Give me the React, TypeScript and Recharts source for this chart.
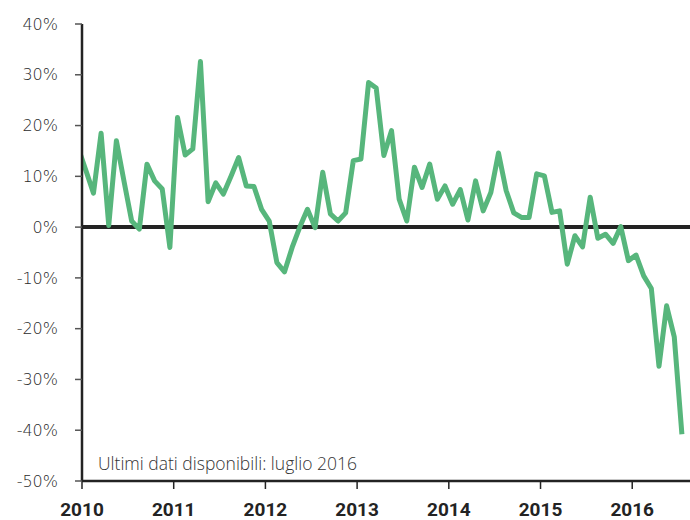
import { LineChart, Line, XAxis, YAxis, ReferenceLine } from 'recharts'

// monthly % change (Dec 2009 point is clipped at the axis)
const VALUES_2009 = [15.6] // December only
const VALUES_2010 = [11.2, 6.7, 18.5, 0.3, 17, 9, 1.2, -0.4, 12.4, 9.1, 7.5, -4]
const VALUES_2011 = [21.6, 14.2, 15.4, 32.6, 5, 8.7, 6.5, 10, 13.7, 8.1, 8, 3.5]
const VALUES_2012 = [1.2, -7, -8.8, -4, 0, 3.5, -0.1, 10.8, 2.6, 1.2, 2.8, 13.1]
const VALUES_2013 = [13.4, 28.5, 27.4, 14.1, 19, 5.5, 1.2, 11.8, 7.8, 12.4, 5.5, 8.1]
const VALUES_2014 = [4.5, 7.4, 1.4, 9.1, 3.2, 6.8, 14.6, 7.2, 2.8, 1.9, 1.9, 10.5]
const VALUES_2015 = [10.1, 2.9, 3.2, -7.3, -1.7, -3.9, 5.9, -2.2, -1.4, -3.2, 0.1, -6.6]
const VALUES_2016 = [-5.5, -9.6, -12.1, -27.4, -15.5, -21.6, -40.8] // through July

const YEAR_TICKS = [2010, 2011, 2012, 2013, 2014, 2015, 2016]
const Y_TICKS = [-50, -40, -30, -20, -10, 0, 10, 20, 30, 40]
const NOTE = 'Ultimi dati disponibili: luglio 2016'

// points sit at mid-month
const monthly = (year: number, values: number[], firstMonth = 0) =>
  values.map((value, i) => ({ t: year + (firstMonth + i + 0.5) / 12, value }))

const data = [
  ...monthly(2009, VALUES_2009, 11),
  ...monthly(2010, VALUES_2010),
  ...monthly(2011, VALUES_2011),
  ...monthly(2012, VALUES_2012),
  ...monthly(2013, VALUES_2013),
  ...monthly(2014, VALUES_2014),
  ...monthly(2015, VALUES_2015),
  ...monthly(2016, VALUES_2016),
]

const GREEN = '#57b67c'
const INK = '#232323'

export default function App() {
  return (
    <div style={{ position: 'absolute', left: 0, top: 0, width: 690, height: 520, background: '#fff' }}>
      <LineChart width={690} height={520} data={data} margin={{ top: 24, right: 0, left: 0, bottom: 0 }}>
        <XAxis
          type="number"
          dataKey="t"
          domain={[2010, 2016.63]}
          allowDataOverflow
          ticks={YEAR_TICKS}
          height={39}
          tickSize={8}
          tickMargin={14}
          axisLine={{ stroke: INK, strokeWidth: 2.5 }}
          tickLine={{ stroke: INK, strokeWidth: 1.5 }}
          tick={{ fontSize: 19, fontWeight: 700, fill: INK, fontFamily: "'Liberation Sans Narrow', Roboto, sans-serif" }}
        />
        <YAxis
          type="number"
          domain={[-50, 40]}
          ticks={Y_TICKS}
          width={82}
          tickSize={7}
          tickMargin={17}
          tickFormatter={(v) => `${v}%`}
          axisLine={{ stroke: INK, strokeWidth: 2.5 }}
          tickLine={{ stroke: '#555', strokeWidth: 1.5 }}
          tick={{ fontSize: 16, fontWeight: 200, fill: '#2a2a2a', fontFamily: "'DejaVu Sans', sans-serif" }}
        />
        <ReferenceLine y={0} stroke={INK} strokeWidth={4} />
        <Line
          type="linear"
          dataKey="value"
          stroke={GREEN}
          strokeWidth={5}
          strokeLinejoin="round"
          dot={false}
          isAnimationActive={false}
        />
      </LineChart>
      <div
        style={{
          position: 'absolute',
          left: 98,
          top: 453,
          fontSize: 17.5,
          lineHeight: '20px',
          color: '#333',
          fontFamily: "'Open Sans', sans-serif",
          fontWeight: 300,
          whiteSpace: 'nowrap',
        }}
      >
        {NOTE}
      </div>
    </div>
  )
}
